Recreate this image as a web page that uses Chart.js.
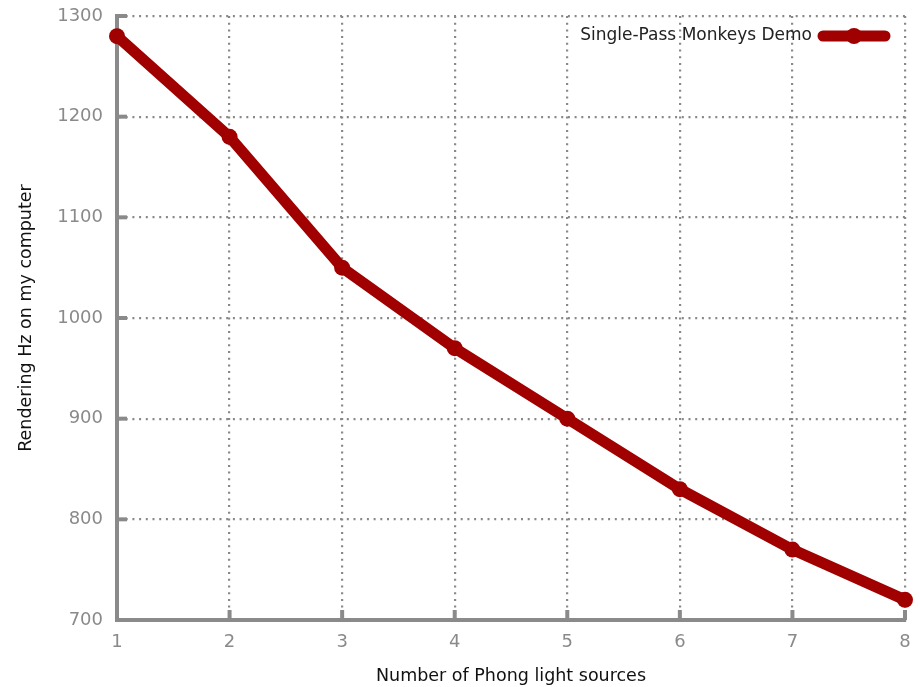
<!DOCTYPE html>
<html>
<head>
<meta charset="utf-8">
<script src="https://cdn.jsdelivr.net/npm/chart.js@4/dist/chart.umd.min.js"></script>
<style>
  html, body { margin: 0; padding: 0; background: #fff; }
  #wrap { width: 920px; height: 687px; }
</style>
</head>
<body>
<div id="wrap"><canvas id="chart"></canvas></div>
<script>
const lightSources = ['1', '2', '3', '4', '5', '6', '7', '8'];
const renderingHz = [1280, 1180, 1050, 970, 900, 830, 770, 720];
const seriesName = 'Single-Pass Monkeys Demo';

const lineColor = '#a00000';
const axisGray = '#8a8a8a';

// gnuplot style: legend inside top right, line sample after the text
const insideLegend = {
  id: 'insideLegend',
  afterDraw(chart) {
    const ctx = chart.ctx;
    const area = chart.chartArea;
    const ds = chart.data.datasets[0];
    const y = area.top + 20;
    const x1 = area.right - 82, x2 = area.right - 20;
    ctx.save();
    ctx.font = '17px "DejaVu Sans"';
    ctx.fillStyle = '#222';
    ctx.textAlign = 'right';
    ctx.textBaseline = 'middle';
    ctx.fillText(ds.label, x1 - 11, y);
    ctx.strokeStyle = ds.borderColor;
    ctx.lineWidth = 11;
    ctx.lineCap = 'round';
    ctx.beginPath();
    ctx.moveTo(x1, y);
    ctx.lineTo(x2, y);
    ctx.stroke();
    ctx.fillStyle = ds.borderColor;
    ctx.beginPath();
    ctx.arc((x1 + x2) / 2, y, 8, 0, Math.PI * 2);
    ctx.fill();
    ctx.restore();
  }
};

// small inward tick marks on the left and bottom axes
const innerTicks = {
  id: 'innerTicks',
  beforeDatasetsDraw(chart) {
    const ctx = chart.ctx;
    const area = chart.chartArea;
    const xs = chart.scales.x, ys = chart.scales.y;
    ctx.save();
    ctx.strokeStyle = axisGray;
    ctx.lineWidth = 4;
    ys.ticks.forEach((t, i) => {
      const py = ys.getPixelForTick(i);
      ctx.beginPath();
      ctx.moveTo(area.left, py);
      ctx.lineTo(area.left + 10, py);
      ctx.stroke();
    });
    xs.ticks.forEach((t, i) => {
      const px = xs.getPixelForTick(i);
      ctx.beginPath();
      ctx.moveTo(px, area.bottom);
      ctx.lineTo(px, area.bottom - 10);
      ctx.stroke();
    });
    ctx.restore();
  }
};

new Chart(document.getElementById('chart'), {
  type: 'line',
  data: {
    labels: lightSources,
    datasets: [{
      label: seriesName,
      data: renderingHz,
      borderColor: lineColor,
      backgroundColor: lineColor,
      borderWidth: 11,
      pointRadius: 8,
      pointHoverRadius: 8,
      pointBorderWidth: 0,
      tension: 0,
      clip: false
    }]
  },
  options: {
    responsive: true,
    maintainAspectRatio: false,
    animation: false,
    layout: {
      padding: { top: 16, right: 15, left: 16, bottom: 0 }
    },
    plugins: {
      legend: { display: false },
      tooltip: { enabled: false }
    },
    scales: {
      x: {
        offset: false,
        afterFit: (scale) => { scale.height = 67; scale.paddingRight = 0; },
        border: { display: true, color: axisGray, width: 4, dash: [2, 4.7] },
        grid: {
          color: '#888',
          lineWidth: 2.2,
          drawTicks: false
        },
        ticks: {
          color: axisGray,
          font: { family: 'DejaVu Sans', size: 18 },
          padding: 12,
          maxRotation: 0
        },
        title: {
          display: true,
          text: 'Number of Phong light sources',
          color: '#111',
          font: { family: 'DejaVu Sans', size: 17.5 },
          padding: { top: 12, bottom: 0 }
        }
      },
      y: {
        min: 700,
        max: 1300,
        afterFit: (scale) => { scale.width = 101; scale.paddingTop = 0; scale.paddingBottom = 0; },
        border: { display: true, color: axisGray, width: 4, dash: [2, 4.7] },
        grid: {
          color: '#888',
          lineWidth: 2.2,
          drawTicks: false
        },
        ticks: {
          stepSize: 100,
          color: axisGray,
          font: { family: 'DejaVu Sans', size: 18 },
          padding: 14,
          callback: (v) => String(v)
        },
        title: {
          display: true,
          text: 'Rendering Hz on my computer',
          color: '#111',
          font: { family: 'DejaVu Sans', size: 17.5 },
          padding: 0
        }
      }
    }
  },
  plugins: [innerTicks, insideLegend]
});
</script>
</body>
</html>
